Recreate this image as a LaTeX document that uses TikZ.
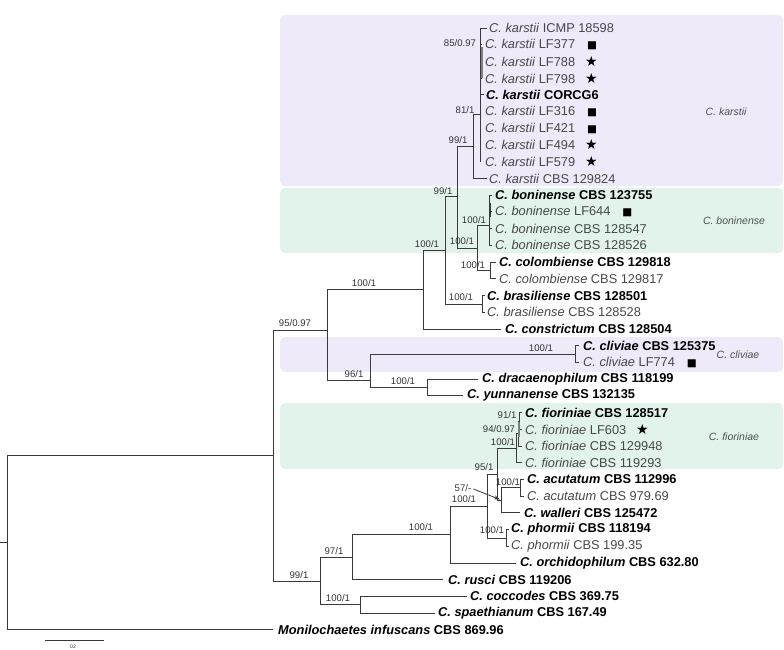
\documentclass[tikz,border=0pt]{standalone}
\usepackage{fontspec}
\setmainfont{Liberation Sans}
\newfontfamily\symfont{DejaVu Sans}
\usetikzlibrary{arrows.meta}
\definecolor{lav}{HTML}{EFEAF9}
\definecolor{mint}{HTML}{E2F3EC}
\definecolor{treec}{HTML}{3A3A3A}
\definecolor{regtxt}{HTML}{474747}
\definecolor{bsc}{HTML}{333333}
\definecolor{cladec}{HTML}{505050}
\newcommand\tr[2]{{\color{regtxt}\textit{#1} #2}}
\newcommand\tbo[2]{\textbf{\textit{#1} #2}}
\newcommand\sq{\hspace{12pt}{\symfont\fontsize{10.5}{12}\selectfont ■}}
\newcommand\st{\hspace{10pt}{\symfont\fontsize{14}{12}\selectfont ★}}
\tikzset{
  tip/.style={anchor=west,inner sep=0pt,font=\fontsize{12.8}{14}\selectfont},
  bs/.style={inner sep=0pt,text=bsc,font=\fontsize{9.6}{10}\selectfont},
  clade/.style={inner sep=0pt,text=cladec,font=\fontsize{10.5}{12}\selectfont\itshape},
  br/.style={draw=treec,line width=0.9pt},
  zbar/.style={draw=gray,line width=2pt},
  box/.style={rounded corners=5pt,draw=none}
}
\begin{document}
\begin{tikzpicture}[x=1pt,y=-1pt]
\useasboundingbox (0,0) rectangle (784,650);
% shaded clade boxes
\fill[lav,box] (280,15) rectangle (783,186);
\fill[mint,box] (280,188) rectangle (783,253);
\fill[lav,box] (280,337) rectangle (783,372);
\fill[mint,box] (280,403) rectangle (783,469);
\node[clade] (lk) at (726,112) {C. karstii};
\node[clade] (lb) at (734,221) {C. boninense};
\node[clade] (lc) at (738,355) {C. cliviae};
\node[clade] (lf) at (734,437) {C. fioriniae};
% internal nodes
\coordinate (R0) at (0,542.7);
\coordinate (R) at (7,542.7);
\coordinate (A) at (273,455.5);
\coordinate (B) at (327,330);
\coordinate (C) at (423,289.5);
\coordinate (D) at (370,380);
\coordinate (E) at (445,250);
\coordinate (F) at (457,196.5);
\coordinate (K) at (473,146.3);
\coordinate (K1) at (480,114);
\coordinate (H) at (477,248);
\coordinate (Bon) at (489,225.6);
\coordinate (Col) at (490,270.4);
\coordinate (Bras) at (482,304);
\coordinate (Cliv) at (575,354);
\coordinate (Drac) at (427,387.5);
\coordinate (L) at (320,581);
\coordinate (K2) at (352,557);
\coordinate (J) at (450,534.5);
\coordinate (I) at (487,506);
\coordinate (G) at (497,474);
\coordinate (FC) at (516,448);
\coordinate (F94) at (518,433.5);
\coordinate (F91) at (519.5,421);
\coordinate (H2) at (501,500.4);
\coordinate (Acu) at (520,487.8);
\coordinate (Pho) at (506,538);
\coordinate (M) at (360,604.8);
% tip branch ends
\coordinate (e0) at (487,28);
\coordinate (e1) at (482,44.7);
\coordinate (e2) at (482,61.4);
\coordinate (e3) at (482,78.2);
\coordinate (e4) at (484,94.9);
\coordinate (e5) at (481,111.6);
\coordinate (e6) at (481,128.3);
\coordinate (e7) at (481,145);
\coordinate (e8) at (481,161.8);
\coordinate (e9) at (487,178.5);
\coordinate (e10) at (492,195.2);
\coordinate (e11) at (492,211.9);
\coordinate (e12) at (492,228.6);
\coordinate (e13) at (492,245.4);
\coordinate (e14) at (496,262.1);
\coordinate (e15) at (496,278.8);
\coordinate (e16) at (485,295.5);
\coordinate (e17) at (485,312.2);
\coordinate (e18) at (501,329);
\coordinate (e19) at (579,345.7);
\coordinate (e20) at (579,362.4);
\coordinate (e21) at (478,379.1);
\coordinate (e22) at (463,395.8);
\coordinate (e23) at (522,412.6);
\coordinate (e24) at (522,429.3);
\coordinate (e25) at (522,446);
\coordinate (e26) at (522,462.7);
\coordinate (e27) at (524,479.4);
\coordinate (e28) at (524,496.1);
\coordinate (e29) at (520,512.9);
\coordinate (e30) at (509,529.6);
\coordinate (e31) at (509,546.3);
\coordinate (e32) at (516,563);
\coordinate (e33) at (443,579.7);
\coordinate (e34) at (467,596.4);
\coordinate (e35) at (435,613.2);
\coordinate (e36) at (273,629.9);
% branches
\draw[br] (R0) -- (R);
\draw[br] (R) |- (A);  \draw[br] (R) |- (e36);
\draw[br] (A) |- (B);  \draw[br] (A) |- (L);
\draw[br] (B) |- (C);  \draw[br] (B) |- (D);
\draw[br] (C) |- (E);  \draw[br] (C) |- (e18);
\draw[br] (E) |- (F);  \draw[br] (E) |- (Bras);
\draw[br] (F) |- (K);  \draw[br] (F) |- (H);
\draw[br] (K) |- (K1); \draw[br] (K) |- (e9);
\foreach \t in {e0,e1,e2,e3,e4,e5,e6,e7,e8} \draw[br] (K1) |- (\t);
\draw[br] (H) |- (Bon); \draw[br] (H) |- (Col);
\foreach \t in {e10,e11,e12,e13} \draw[br] (Bon) |- (\t);
\draw[br] (Col) |- (e14); \draw[br] (Col) |- (e15);
\draw[br] (Bras) |- (e16); \draw[br] (Bras) |- (e17);
\draw[br] (D) |- (Cliv); \draw[br] (D) |- (Drac);
\draw[br] (Cliv) |- (e19); \draw[br] (Cliv) |- (e20);
\draw[br] (Drac) |- (e21); \draw[br] (Drac) |- (e22);
\draw[br] (L) |- (K2); \draw[br] (L) |- (M);
\draw[br] (K2) |- (J); \draw[br] (K2) |- (e33);
\draw[br] (J) |- (I); \draw[br] (J) |- (e32);
\draw[br] (I) |- (G); \draw[br] (I) |- (Pho);
\draw[br] (G) |- (FC); \draw[br] (G) |- (H2);
\draw[br] (FC) |- (F94); \draw[br] (FC) |- (e26);
\draw[br] (F94) |- (F91); \draw[br] (F94) |- (e25);
\draw[br] (F91) |- (e23); \draw[br] (F91) |- (e24);
\draw[br] (H2) |- (Acu); \draw[br] (H2) |- (e29);
\draw[br] (Acu) |- (e27); \draw[br] (Acu) |- (e28);
\draw[br] (Pho) |- (e30); \draw[br] (Pho) |- (e31);
\draw[br] (M) |- (e34); \draw[br] (M) |- (e35);
% thick grey bars of near-zero-length subclades
\coordinate (g1) at (481.5,47); \coordinate (g2) at (481.5,78);
\draw[zbar] (g1) -- (g2);
\coordinate (g3) at (489.5,203); \coordinate (g4) at (489.5,217);
\draw[zbar,draw=treec] (g3) -- (g4);
\coordinate (g5) at (518.5,422); \coordinate (g6) at (518.5,437);
\draw[zbar] (g5) -- (g6);
% tip labels
\node[tip] (t0) at (489,28) {\tr{C. karstii}{ICMP 18598}};
\node[tip] (t1) at (485,44.7) {\tr{C. karstii}{LF377}\sq};
\node[tip] (t2) at (485,61.4) {\tr{C. karstii}{LF788}\st};
\node[tip] (t3) at (485,78.2) {\tr{C. karstii}{LF798}\st};
\node[tip] (t4) at (486,94.9) {\tbo{C. karstii}{CORCG6}};
\node[tip] (t5) at (485,111.6) {\tr{C. karstii}{LF316}\sq};
\node[tip] (t6) at (485,128.3) {\tr{C. karstii}{LF421}\sq};
\node[tip] (t7) at (485,145) {\tr{C. karstii}{LF494}\st};
\node[tip] (t8) at (485,161.8) {\tr{C. karstii}{LF579}\st};
\node[tip] (t9) at (489,178.5) {\tr{C. karstii}{CBS 129824}};
\node[tip] (t10) at (495,195.2) {\tbo{C. boninense}{CBS 123755}};
\node[tip] (t11) at (495,211.9) {\tr{C. boninense}{LF644}\sq};
\node[tip] (t12) at (495,228.6) {\tr{C. boninense}{CBS 128547}};
\node[tip] (t13) at (495,245.4) {\tr{C. boninense}{CBS 128526}};
\node[tip] (t14) at (499,262.1) {\tbo{C. colombiense}{CBS 129818}};
\node[tip] (t15) at (499,278.8) {\tr{C. colombiense}{CBS 129817}};
\node[tip] (t16) at (487,295.5) {\tbo{C. brasiliense}{CBS 128501}};
\node[tip] (t17) at (487,312.2) {\tr{C. brasiliense}{CBS 128528}};
\node[tip] (t18) at (505,329) {\tbo{C. constrictum}{CBS 128504}};
\node[tip] (t19) at (583,345.7) {\tbo{C. cliviae}{CBS 125375}};
\node[tip] (t20) at (583,362.4) {\tr{C. cliviae}{LF774}\sq};
\node[tip] (t21) at (482,379.1) {\tbo{C. dracaenophilum}{CBS 118199}};
\node[tip] (t22) at (467,395.8) {\tbo{C. yunnanense}{CBS 132135}};
\node[tip] (t23) at (525,412.6) {\tbo{C. fioriniae}{CBS 128517}};
\node[tip] (t24) at (525,429.3) {\tr{C. fioriniae}{LF603}\st};
\node[tip] (t25) at (525,446) {\tr{C. fioriniae}{CBS 129948}};
\node[tip] (t26) at (525,462.7) {\tr{C. fioriniae}{CBS 119293}};
\node[tip] (t27) at (527,479.4) {\tbo{C. acutatum}{CBS 112996}};
\node[tip] (t28) at (527,496.1) {\tr{C. acutatum}{CBS 979.69}};
\node[tip] (t29) at (524,512.9) {\tbo{C. walleri}{CBS 125472}};
\node[tip] (t30) at (511,529.6) {\tbo{C. phormii}{CBS 118194}};
\node[tip] (t31) at (511,546.3) {\tr{C. phormii}{CBS 199.35}};
\node[tip] (t32) at (520,563) {\tbo{C. orchidophilum}{CBS 632.80}};
\node[tip] (t33) at (448,579.7) {\tbo{C. rusci}{CBS 119206}};
\node[tip] (t34) at (470,596.4) {\tbo{C. coccodes}{CBS 369.75}};
\node[tip] (t35) at (438,613.2) {\tbo{C. spaethianum}{CBS 167.49}};
\node[tip] (t36) at (278,629.9) {\tbo{Monilochaetes infuscans}{CBS 869.96}};
% support values
\node[bs] (b1) at (460,43) {85/0.97};
\node[bs] (b2) at (465,110) {81/1};
\node[bs] (b3) at (458,140) {99/1};
\node[bs] (b4) at (443,191) {99/1};
\node[bs] (b5) at (474,220) {100/1};
\node[bs] (b6) at (462,241) {100/1};
\node[bs] (b7) at (473,265) {100/1};
\node[bs] (b8) at (427,244) {100/1};
\node[bs] (b9) at (461,297) {100/1};
\node[bs] (b10) at (364,283) {100/1};
\node[bs] (b11) at (295,323) {95/0.97};
\node[bs] (b12) at (354,374) {96/1};
\node[bs] (b13) at (541,348) {100/1};
\node[bs] (b14) at (403,381) {100/1};
\node[bs] (b15) at (507,415) {91/1};
\node[bs] (b16) at (499,429) {94/0.97};
\node[bs] (b17) at (503,442) {100/1};
\node[bs] (b18) at (484,467) {95/1};
\node[bs] (b19) at (508,482) {100/1};
\node[bs] (b20) at (463,488) {57/-};
\node[bs] (b21) at (464,499) {100/1};
\node[bs] (b22) at (492,530) {100/1};
\node[bs] (b23) at (421,527) {100/1};
\node[bs] (b24) at (334,551) {97/1};
\node[bs] (b25) at (299,575) {99/1};
\node[bs] (b26) at (338,598) {100/1};
\coordinate (ar) at (500,499.5);
\draw[treec,line width=0.8pt,-{Stealth[length=6pt,width=4pt]}] (b20.east) ++(2,1) -- (ar);
% scale bar
\coordinate (s1) at (45,640); \coordinate (s2) at (104,640);
\draw[treec,line width=0.9pt] (s1) -- (s2);
\node[inner sep=0pt,font=\fontsize{5}{6}\selectfont,text=bsc] (sl) at (73,647) {02};
\end{tikzpicture}
\end{document}
